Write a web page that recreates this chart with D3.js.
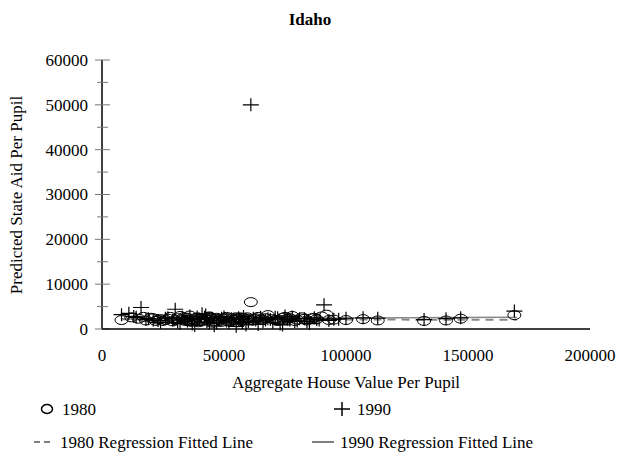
<!DOCTYPE html>
<html><head><meta charset="utf-8">
<script src="https://cdn.jsdelivr.net/npm/d3@7"></script>
<style>body{margin:0;background:#fff}</style>
</head><body><svg id="c" width="619" height="461"></svg>
<script>
// 1980 observations: house value per pupil, predicted state aid per pupil
const x1980 = [8000,12000,15000,18000,20000,22000,24000,26000,28000,29000,31000,32000,33000,34000,35000,36000,37000,38000,39000,40000,41000,42000,43000,44000,45000,46000,47000,48000,49000,50000,51000,52000,53000,54000,55000,56000,57000,58000,59000,60000,61000,62000,63000,64000,66000,68000,70000,72000,74000,76000,78000,80000,82000,84000,86000,88000,90000,92000,95000,100000,107000,113000,132000,141000,147000,169000,27000,34500,39500,44500,51500,56500,65000,73000,77000,
  17000,23000,25000,30000,33500,36500,38500,41500,43500,46500,48500,50500,52500,54500,57500,59500,62500,67000,71000,75000,79000,83000,87000,93000,21000,45500,55500];
const y1980 = [2000,2600,2300,1900,2500,1800,2200,2000,2700,1700,2400,2900,2100,1800,2500,3000,2200,1900,2600,2300,1700,2400,2000,2800,2200,1800,2500,2100,1600,2300,2700,1900,2400,2000,2600,2200,1800,2500,2100,2300,6000,1900,2400,2700,2000,3100,2200,1800,2500,2300,2900,2100,2600,1900,2400,2200,2800,3200,2100,2000,2200,1900,1800,1900,2300,3100,2300,2000,1500,2500,1700,2600,2100,2000,2400,
  2700,2100,1800,2000,2600,1600,2400,2000,2700,2300,1900,2500,1700,2300,2000,2600,2200,2400,2000,2700,1800,2300,2500,2000,2400,1400,1500];
// 1990 observations
const x1990 = [8000,11000,13000,16000,19000,21000,24000,27000,30000,32000,33000,35000,36000,38000,40000,41000,43000,45000,46000,48000,50000,52000,53000,55000,57000,58000,60000,61000,62000,64000,65000,67000,70000,72000,74000,76000,78000,80000,83000,85000,87000,89000,91000,93000,97000,100000,107000,113000,132000,141000,147000,169000,29000,37000,42000,47000,54000,59000,69000,79000,
  14000,18000,23000,26000,31000,34000,39000,44000,49000,51000,56000,63000,66000,68000,71000,73000,75000,77000,81000,84000,88000,95000,42500,57500];
const y1990 = [3200,3500,2800,4800,2300,2000,1500,2500,4400,1200,2600,1800,2900,800,2200,3400,1600,2400,700,2000,2700,1400,2300,600,2100,2800,1700,50000,2400,1000,2600,2000,1500,2500,900,2200,2700,1800,2300,1200,2500,2000,5400,1900,2200,2400,2500,2400,2100,2300,2500,4000,2000,1100,2600,1300,2200,900,2100,1700,
  2600,2100,1900,2400,1500,2200,2700,1300,2400,1800,2500,2000,1600,2300,2600,1100,2900,2000,2300,1700,2100,2200,3100,1400];
// regression fitted lines (endpoints)
const fit1980x = [8000,170000], fit1980y = [2200,2050];
const fit1990x = [8000,170000], fit1990y = [2250,2600];
const xTicks = [0,50000,100000,150000,200000];
const yTicks = [0,10000,20000,30000,40000,50000,60000];
const yMinor = [5000,15000,25000,35000,45000,55000];

const FONT = "'Liberation Serif','Times New Roman','DejaVu Serif',serif";
const svg = d3.select("#c");
const T = (sel) => sel.attr("font-family",FONT).attr("font-size",17).attr("fill","#000");
const x = d3.scaleLinear().domain([0,200000]).range([102,590]);
const y = d3.scaleLinear().domain([0,60000]).range([329,60]);

T(svg.append("text")).attr("x",310).attr("y",25).attr("text-anchor","middle")
  .attr("font-weight","bold").text("Idaho");

// y axis
const ya = svg.append("g").attr("transform","translate(102,0)");
ya.append("line").attr("y1",y(0)).attr("y2",y(60000)).attr("stroke","#000").attr("stroke-width",1.5);
ya.selectAll(".mj").data(yTicks).join("line").attr("x1",-7).attr("x2",8)
  .attr("y1",d=>y(d)).attr("y2",d=>y(d)).attr("stroke","#777").attr("stroke-width",1);
ya.selectAll(".mn").data(yMinor).join("line").attr("x1",-5).attr("x2",6)
  .attr("y1",d=>y(d)).attr("y2",d=>y(d)).attr("stroke","#777").attr("stroke-width",1);
T(ya.selectAll(".tl").data(yTicks).join("text")).attr("x",-14).attr("y",d=>y(d)).attr("dy","0.35em")
  .attr("text-anchor","end").text(d=>d);

// x axis
svg.append("line").attr("x1",x(0)).attr("x2",x(200000)).attr("y1",329).attr("y2",329).attr("stroke","#000").attr("stroke-width",1.5);
T(svg.selectAll(".xl").data(xTicks).join("text")).attr("x",d=>x(d)).attr("y",361).attr("text-anchor","middle").text(d=>d);
T(svg.append("text")).attr("x",346).attr("y",388).attr("text-anchor","middle").text("Aggregate House Value Per Pupil");
T(svg.append("text")).attr("transform","translate(22,195) rotate(-90)").attr("text-anchor","middle").text("Predicted State Aid Per Pupil");

// regression lines
const line = d3.line().x(d=>x(d[0])).y(d=>y(d[1]));
svg.append("path").datum(d3.zip(fit1980x,fit1980y)).attr("d",line).attr("stroke","#888").attr("stroke-width",2).attr("stroke-dasharray","8,6").attr("fill","none");
svg.append("path").datum(d3.zip(fit1990x,fit1990y)).attr("d",line).attr("stroke","#888").attr("stroke-width",1.5).attr("fill","none");

// points
const d80 = d3.zip(x1980,y1980), d90 = d3.zip(x1990,y1990);
svg.append("g").selectAll("ellipse").data(d80).join("ellipse")
  .attr("cx",d=>x(d[0])).attr("cy",d=>y(d[1])).attr("rx",6.5).attr("ry",4.5)
  .attr("fill","none").attr("stroke","#000").attr("stroke-width",1);
svg.append("g").selectAll("path").data(d90).join("path")
  .attr("d",d=>`M${x(d[0])-8},${y(d[1])}h16M${x(d[0])},${y(d[1])-6.5}v13`)
  .attr("stroke","#000").attr("stroke-width",1.2).attr("fill","none");

// legend
svg.append("ellipse").attr("cx",47).attr("cy",409).attr("rx",5.5).attr("ry",4.5).attr("fill","none").attr("stroke","#000").attr("stroke-width",1.5);
T(svg.append("text")).attr("x",62).attr("y",415).text("1980");
svg.append("path").attr("d","M334,409h16M342,402v14").attr("stroke","#000").attr("stroke-width",1.5);
T(svg.append("text")).attr("x",357).attr("y",415).text("1990");
svg.append("path").attr("d","M34,442h18").attr("stroke","#000").attr("stroke-width",1).attr("stroke-dasharray","6,4");
T(svg.append("text")).attr("x",60).attr("y",448).text("1980 Regression Fitted Line");
svg.append("path").attr("d","M312,442h22").attr("stroke","#000").attr("stroke-width",1);
T(svg.append("text")).attr("x",340).attr("y",448).text("1990 Regression Fitted Line");
</script></body></html>
